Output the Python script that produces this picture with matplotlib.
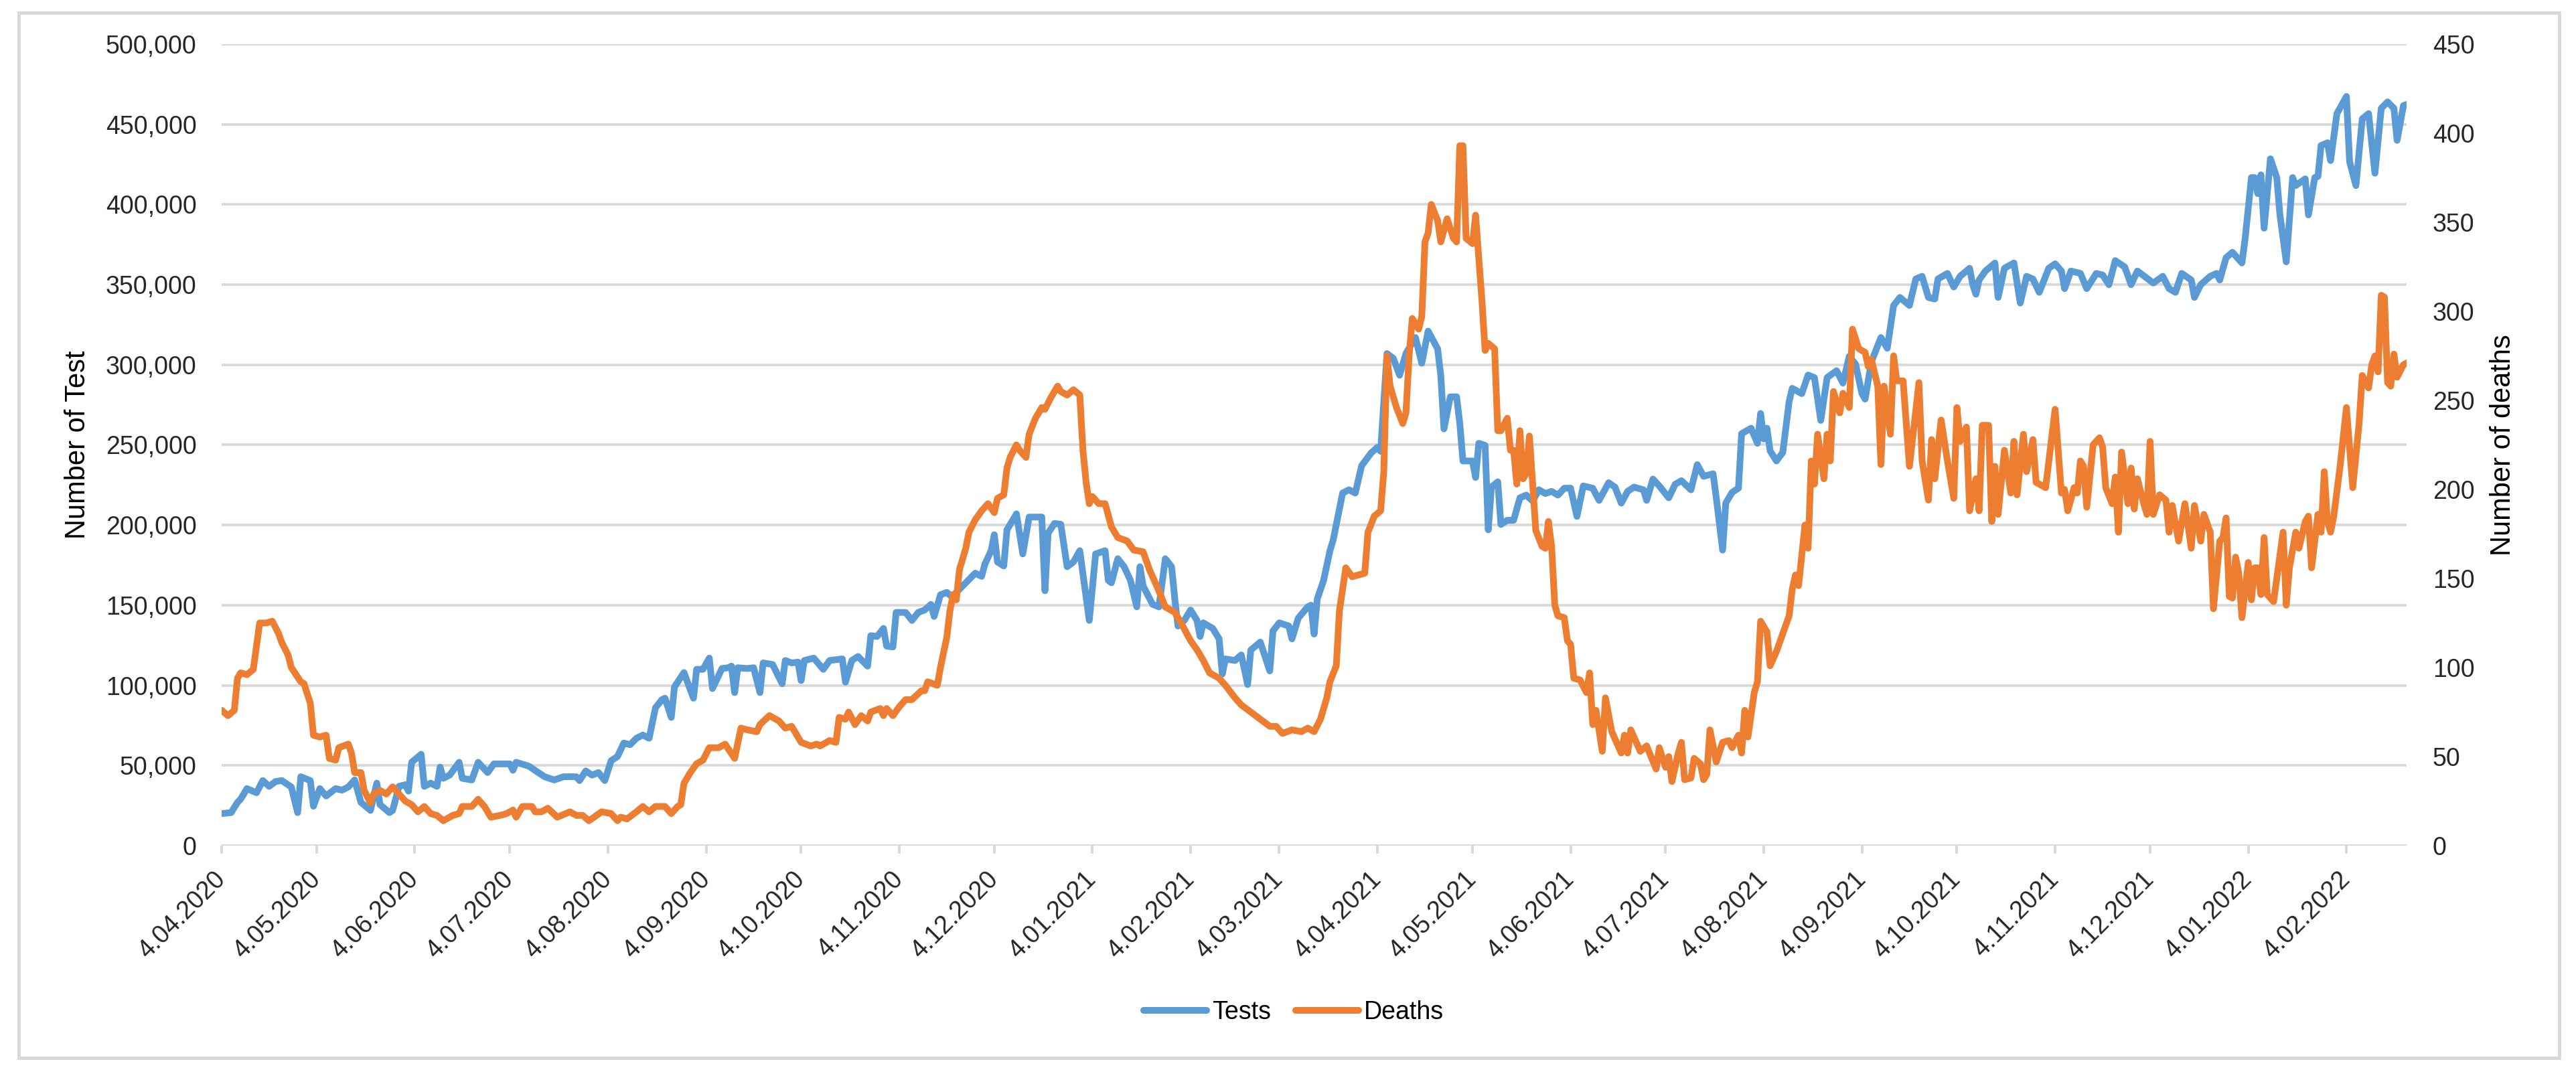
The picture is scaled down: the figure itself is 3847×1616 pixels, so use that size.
import matplotlib
matplotlib.use("Agg")
import matplotlib.pyplot as plt
import matplotlib.dates as mdates
from matplotlib.patches import Rectangle
from matplotlib.ticker import FuncFormatter, MultipleLocator
import pandas as pd

plt.rcParams["font.family"] = ["Liberation Sans", "DejaVu Sans"]

START = "2020-04-04"
END = "2022-02-23"

# days after START
TEST_DAY = [
    0, 3, 5, 6, 8, 11, 13, 15, 17, 19, 22, 24, 25, 28, 29, 31, 33, 36, 38, 40,
    42, 44, 47, 49, 50, 53, 54, 56, 58, 59, 60, 63, 64, 66, 68, 69, 70, 72, 75, 76,
    79, 81, 84, 86, 89, 91, 92, 93, 97, 100, 102, 105, 108, 112, 113, 115, 117, 119, 121, 123,
    125, 127, 129, 131, 133, 135, 137, 139, 140, 142, 143, 146, 149, 150, 152, 154, 155, 158, 160, 161,
    162, 163, 166, 168, 170, 171, 174, 177, 178, 180, 182, 183, 184, 187, 190, 192, 196, 197, 199, 201,
    204, 205, 207, 209, 210, 212, 213, 216, 218, 220, 222, 224, 225, 227, 229, 231, 232, 234, 238, 240,
    241, 243, 244, 245, 247, 248, 251, 253, 255, 259, 260, 261, 263, 265, 267, 269, 271, 274, 276, 279,
    280, 281, 283, 285, 287, 289, 290, 291, 294, 296, 298, 300, 301, 302, 304, 306, 308, 309, 310, 313,
    315, 316, 317, 320, 322, 324, 325, 328, 331, 332, 334, 337, 338, 340, 343, 344, 345, 346, 348, 350,
    351, 354, 356, 358, 360, 363, 365, 366, 368, 370, 372, 374, 377, 379, 381, 384, 385, 386, 388, 390,
    391, 392, 395, 396, 397, 399, 400, 401, 403, 404, 406, 408, 410, 412, 414, 416, 418, 420, 422, 424,
    426, 428, 430, 433, 435, 438, 440, 442, 444, 446, 449, 450, 452, 454, 457, 459, 461, 464, 466, 468,
    471, 472, 474, 475, 477, 479, 480, 483, 485, 486, 487, 488, 489, 491, 493, 495, 496, 499, 501, 503,
    505, 507, 510, 512, 514, 516, 518, 519, 521, 524, 526, 528, 530, 533, 535, 537, 539, 541, 542, 545,
    547, 549, 552, 553, 554, 555, 557, 560, 561, 563, 566, 568, 570, 572, 574, 577, 579, 581, 582, 584,
    587, 589, 592, 594, 596, 598, 601, 603, 605, 608, 610, 613, 615, 617, 619, 622, 623, 625, 628, 630,
    631, 633, 635, 638, 639, 641, 642, 643, 644, 645, 647, 649, 650, 652, 654, 655, 658, 659, 661, 662,
    663, 665, 666, 668, 671, 672, 674, 676, 678, 680, 682, 684, 686, 687, 689, 690,
]
TEST_VAL = [
    20000, 20600, 27000, 29000, 35600, 33000, 40600, 37000, 40000, 40600, 36600, 20600, 43000, 40600, 24600, 35600, 31000, 35600, 34600, 36600,
    41000, 27000, 22000, 39000, 25600, 20600, 22000, 37000, 38000, 34000, 52000, 57000, 37000, 39000, 37000, 49000, 42000, 44000, 52000, 42000,
    41000, 52000, 45600, 51000, 51000, 51000, 47000, 52000, 49600, 45600, 43000, 41000, 43000, 43000, 40600, 46600, 44000, 45600, 40600, 53000,
    55600, 64000, 63000, 67000, 69000, 67000, 86000, 91000, 92000, 80000, 99000, 108000, 92000, 110000, 110000, 117000, 98000, 110500, 111000, 112000,
    95500, 111000, 110500, 111000, 95500, 114000, 113000, 101000, 115500, 114000, 114500, 103000, 115500, 117000, 110000, 115500, 116500, 102000, 115500, 118000,
    112000, 131000, 130500, 135500, 124500, 124000, 145500, 145500, 140500, 145500, 147000, 150500, 143000, 156500, 158000, 154500, 158000, 162000, 170000, 168000,
    175500, 184000, 194000, 177000, 174500, 197000, 207000, 182000, 205000, 205000, 159000, 195000, 201000, 200500, 174000, 177000, 184000, 140500, 182000, 184000,
    165500, 164000, 179000, 174000, 165500, 149000, 174000, 162000, 150500, 149000, 179000, 174000, 154000, 137000, 140500, 147000, 140500, 130500, 139000, 135500,
    129000, 107000, 116500, 115500, 119000, 100500, 122000, 127000, 109000, 134000, 139000, 137000, 129000, 142000, 149000, 150000, 132000, 154000, 165500, 184000,
    190500, 220000, 222000, 220000, 237000, 245000, 248500, 246000, 307000, 304000, 293500, 307000, 317000, 301000, 321000, 310000, 293500, 260000, 280000, 280000,
    263500, 240000, 240000, 229700, 251000, 249700, 197000, 223700, 227000, 200400, 203000, 203000, 217000, 218700, 215000, 222000, 219700, 221000, 218700, 223000,
    223000, 205400, 224400, 223000, 215400, 226400, 223700, 213700, 221000, 223700, 222000, 215400, 228700, 224400, 217000, 225400, 227700, 222000, 237700, 230400,
    232000, 217000, 184400, 213700, 220400, 223000, 257000, 260400, 251000, 269600, 253700, 260400, 246300, 240000, 245300, 277000, 285300, 282000, 293600, 292000,
    265300, 292000, 296300, 288600, 305300, 300300, 282000, 278600, 302000, 317000, 310300, 337000, 342000, 337000, 353500, 355200, 342000, 341000, 353500, 357000,
    348500, 355200, 360200, 350000, 344000, 352900, 358500, 363500, 342000, 360200, 363500, 338500, 355200, 353500, 345200, 360200, 363000, 358500, 347500, 358500,
    357000, 347500, 357000, 356000, 350000, 365000, 361000, 350000, 358500, 354000, 351000, 355200, 347500, 345200, 357000, 352900, 342000, 350000, 355200, 357000,
    352900, 366800, 370200, 363500, 378500, 416800, 416800, 406800, 418500, 385200, 428500, 416800, 393500, 364200, 416800, 411800, 416000, 393500, 416800, 417500,
    436800, 438500, 427400, 456700, 467400, 426800, 411800, 453400, 456700, 419500, 460000, 464000, 460000, 440000, 461700, 462400,
]

DEATH_DAY = [
    0, 2, 4, 5, 6, 8, 10, 12, 14, 16, 18, 19, 21, 22, 25, 26, 28, 29, 31, 33,
    34, 36, 37, 40, 41, 42, 44, 45, 47, 48, 50, 52, 54, 56, 58, 60, 62, 64, 66, 68,
    70, 73, 75, 76, 79, 81, 83, 85, 88, 90, 92, 93, 95, 98, 99, 101, 103, 106, 110, 112,
    114, 116, 120, 123, 125, 126, 128, 131, 133, 135, 137, 140, 142, 144, 145, 146, 148, 150, 152, 154,
    157, 159, 162, 164, 166, 169, 170, 173, 176, 178, 180, 183, 186, 188, 189, 192, 194, 195, 197, 198,
    200, 202, 204, 205, 208, 209, 210, 212, 214, 216, 218, 221, 222, 223, 226, 227, 229, 230, 231, 232,
    233, 235, 236, 238, 240, 242, 244, 245, 247, 248, 249, 251, 252, 254, 255, 257, 259, 260, 262, 264,
    265, 267, 269, 271, 272, 273, 274, 275, 277, 279, 281, 283, 286, 288, 291, 293, 296, 298, 301, 303,
    306, 308, 310, 312, 315, 317, 320, 322, 325, 328, 331, 333, 335, 338, 341, 343, 345, 347, 349, 350,
    352, 353, 355, 357, 359, 361, 362, 364, 366, 367, 368, 369, 371, 373, 374, 375, 376, 378, 379, 380,
    381, 382, 384, 385, 387, 389, 390, 391, 392, 393, 395, 396, 398, 399, 400, 402, 403, 404, 406, 407,
    408, 409, 410, 411, 412, 413, 415, 417, 418, 419, 420, 421, 422, 424, 425, 426, 427, 429, 431, 432,
    433, 434, 436, 437, 439, 442, 443, 444, 445, 448, 450, 453, 454, 456, 457, 458, 460, 461, 462, 464,
    465, 467, 468, 469, 470, 472, 474, 476, 477, 479, 480, 481, 482, 484, 485, 486, 488, 489, 491, 493,
    495, 496, 497, 498, 500, 501, 502, 503, 504, 506, 507, 508, 509, 511, 512, 514, 515, 517, 519, 520,
    521, 523, 524, 525, 527, 528, 529, 531, 533, 536, 537, 539, 540, 541, 543, 545, 547, 548, 549, 551,
    552, 554, 555, 556, 558, 559, 560, 561, 563, 565, 566, 567, 569, 570, 572, 573, 576, 579, 581, 582,
    583, 585, 586, 587, 588, 589, 591, 593, 594, 595, 597, 598, 599, 600, 602, 603, 604, 605, 607, 608,
    609, 610, 612, 614, 615, 616, 618, 620, 622, 623, 625, 626, 628, 629, 631, 632, 633, 634, 635, 636,
    637, 638, 640, 641, 642, 643, 644, 645, 646, 648, 649, 651, 652, 653, 655, 656, 658, 659, 660, 662,
    663, 664, 665, 666, 667, 669, 671, 673, 675, 676, 678, 679, 680, 681, 682, 683, 684, 685, 686, 687,
    689, 690,
]
DEATH_VAL = [
    76, 73, 76, 94, 97, 96, 99, 125, 125, 126, 119, 114, 107, 100, 92, 91, 80, 62, 61, 62,
    49, 48, 55, 57, 52, 41, 41, 31, 24, 29, 31, 29, 33, 29, 25, 23, 19, 22, 18, 17,
    14, 17, 18, 22, 22, 26, 22, 16, 17, 18, 20, 16, 22, 22, 19, 19, 21, 16, 19, 17,
    17, 14, 19, 18, 14, 16, 15, 19, 22, 19, 22, 22, 18, 22, 23, 35, 41, 46, 48, 55,
    55, 57, 49, 66, 65, 64, 68, 73, 70, 66, 67, 58, 56, 57, 56, 59, 58, 72, 71, 75,
    68, 73, 70, 75, 77, 73, 77, 73, 78, 82, 82, 87, 87, 92, 90, 100, 117, 132, 141, 138,
    155, 167, 176, 183, 188, 192, 187, 195, 197, 212, 218, 225, 222, 218, 231, 240, 246, 245, 252, 258,
    255, 253, 256, 253, 222, 204, 192, 196, 192, 192, 179, 173, 171, 166, 165, 155, 143, 134, 131, 125,
    115, 110, 104, 97, 94, 90, 83, 79, 75, 71, 67, 67, 63, 65, 64, 66, 64, 71, 83, 92,
    101, 132, 156, 151, 152, 153, 176, 185, 188, 210, 275, 258, 246, 237, 243, 275, 296, 290, 297, 339,
    344, 360, 351, 339, 352, 341, 339, 393, 393, 341, 338, 354, 306, 278, 282, 279, 233, 233, 240, 222,
    222, 203, 233, 206, 209, 230, 177, 168, 167, 182, 168, 135, 129, 128, 115, 113, 94, 93, 86, 97,
    68, 76, 53, 83, 64, 52, 62, 52, 65, 53, 56, 43, 55, 44, 50, 36, 52, 58, 37, 38,
    49, 46, 37, 40, 65, 47, 58, 59, 55, 62, 52, 76, 61, 86, 92, 126, 120, 101, 109, 119,
    129, 144, 152, 146, 180, 167, 216, 203, 231, 206, 231, 216, 255, 243, 254, 246, 290, 279, 277, 269,
    273, 258, 214, 258, 231, 275, 261, 261, 213, 260, 216, 194, 228, 206, 239, 216, 195, 246, 227, 235,
    188, 206, 188, 236, 236, 182, 213, 186, 222, 198, 227, 197, 231, 210, 228, 204, 201, 245, 198, 200,
    188, 201, 198, 216, 213, 190, 225, 229, 224, 201, 192, 207, 176, 221, 192, 212, 189, 206, 192, 186,
    227, 186, 197, 194, 176, 191, 171, 192, 167, 191, 171, 186, 176, 133, 171, 173, 184, 140, 139, 162,
    153, 128, 159, 138, 156, 156, 141, 173, 141, 137, 150, 176, 135, 156, 176, 167, 182, 185, 156, 186,
    176, 210, 182, 176, 185, 213, 246, 201, 237, 264, 257, 270, 275, 266, 309, 308, 260, 258, 276, 263,
    270, 271,
]

BLUE = "#5B9BD5"
ORANGE = "#ED7D31"
GRID = "#D9D9D9"
TEXT = "#262626"

W, H = 3847, 1616
DPI = 200

start = pd.Timestamp(START)
test_dates = start + pd.to_timedelta(TEST_DAY, unit="D")
death_dates = start + pd.to_timedelta(DEATH_DAY, unit="D")

fig = plt.figure(figsize=(W / DPI, H / DPI), dpi=DPI)
left, right, top, bottom = 331, 3594, 66, 1263
ax = fig.add_axes([left / W, 1 - bottom / H, (right - left) / W, (bottom - top) / H])
ax2 = ax.twinx()

ax.plot(test_dates, TEST_VAL, color=BLUE, lw=3.6, solid_joinstyle="round",
        solid_capstyle="round", label="Tests")
ax2.plot(death_dates, DEATH_VAL, color=ORANGE, lw=3.6, solid_joinstyle="round",
         solid_capstyle="round", label="Deaths")

ax.set_xlim(start, pd.Timestamp(END))
ax.set_ylim(0, 500000)
ax2.set_ylim(0, 450)
ax.yaxis.set_major_locator(MultipleLocator(50000))
ax2.yaxis.set_major_locator(MultipleLocator(50))
ax.yaxis.set_major_formatter(FuncFormatter(lambda v, p: f"{v:,.0f}"))
ax2.yaxis.set_major_formatter(FuncFormatter(lambda v, p: f"{v:.0f}"))

ax.xaxis.set_major_locator(mdates.MonthLocator(bymonthday=4))
ax.xaxis.set_major_formatter(FuncFormatter(
    lambda v, p: f"{mdates.num2date(v).day}.{mdates.num2date(v):%m.%Y}"))

ax.grid(axis="y", color=GRID, lw=1.4)
ax.set_axisbelow(True)
for a in (ax, ax2):
    for s in ("top", "left", "right", "bottom"):
        a.spines[s].set_visible(False)

ax.tick_params(axis="y", length=0, pad=13.5, labelsize=13.5, labelcolor=TEXT)
ax2.tick_params(axis="y", length=0, pad=14, labelsize=13.5, labelcolor=TEXT)
ax.tick_params(axis="x", length=4.3, width=1.4, color=GRID, pad=12,
               labelsize=13.5, labelcolor=TEXT)
for lab in ax.get_xticklabels():
    lab.set_rotation(45)
    lab.set_ha("right")
    lab.set_va("center")
    lab.set_rotation_mode("anchor")

ax.set_ylabel("Number of Test", fontsize=15, va="center", ha="center")
ax.yaxis.set_label_coords((116 - left) / (right - left), 0.5)
ax2.set_ylabel("Number of deaths", fontsize=15, va="center", ha="center", rotation=90)
ax2.yaxis.set_label_coords((3738 - left) / (right - left), 0.5)

handles = ax.get_lines() + ax2.get_lines()
fig.legend(handles, [h.get_label() for h in handles], loc="center",
           bbox_to_anchor=(1932 / W, 1 - 1512 / H), ncol=2, frameon=False,
           fontsize=13.5, handlelength=2.5, handletextpad=0.2, columnspacing=1.0)

fig.patches.append(Rectangle((28 / W, 1 - 1580 / H), (3822 - 28) / W, (1580 - 19) / H,
                             transform=fig.transFigure, fill=False,
                             edgecolor=GRID, lw=1.8))

fig.savefig("out.png", dpi=DPI)
